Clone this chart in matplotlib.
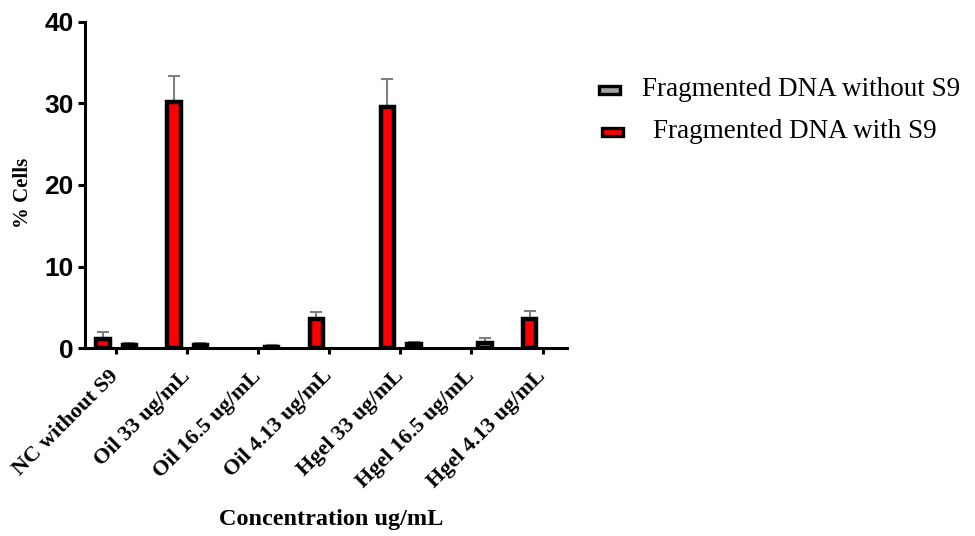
import numpy as np
import matplotlib
matplotlib.use("Agg")
import matplotlib.pyplot as plt
from matplotlib.patches import Rectangle
from matplotlib.transforms import ScaledTranslation

categories = ["NC without S9", "Oil 33 ug/mL", "Oil 16.5 ug/mL", "Oil 4.13 ug/mL",
              "Hgel 33 ug/mL", "Hgel 16.5 ug/mL", "Hgel 4.13 ug/mL"]
with_s9 = [1.2, 30.2, np.nan, 3.6, 29.6, np.nan, 3.6]
with_s9_err = [0.85, 3.1, 0.0, 0.85, 3.4, 0.0, 1.0]
without_s9 = [0.35, 0.46, 0.2, np.nan, 0.54, 0.62, np.nan]
without_s9_err = [0.3, 0.2, 0.15, 0.0, 0.2, 0.6, 0.0]
y_ticks = [0, 10, 20, 30, 40]
label_with = "Fragmented DNA with S9"
label_without = "Fragmented DNA without S9"

RED = "#FF0000"
GREY = "#A0A0A0"
ERRC = "#7F7F7F"

fig = plt.figure(figsize=(9.75, 5.36), dpi=100)
W, H = 975, 536
ax = fig.add_axes([84.5 / W, 1 - 348.3 / H, (566.7 - 84.5) / W, (348.3 - 21.7) / H])

x = np.arange(len(categories))
bw = 0.19
off_red, off_grey = -0.18, 0.19

for xs, vals, errs, col in [(x + off_red, with_s9, with_s9_err, RED),
                            (x + off_grey, without_s9, without_s9_err, GREY)]:
    vals = np.array(vals, dtype=float)
    errs = np.array(errs, dtype=float)
    ax.bar(xs, vals, width=bw, color=col, edgecolor="black", linewidth=3.2, zorder=3)
    m = ~np.isnan(vals)
    ax.errorbar(xs[m], vals[m], yerr=[np.zeros(m.sum()), errs[m]], fmt="none",
                ecolor=ERRC, elinewidth=1.5, capsize=4, capthick=1.5, zorder=2)

ax.set_xlim(-0.44, 6.34)
ax.set_ylim(0, 40)
ax.set_yticks(y_ticks)
ax.set_xticks(x)
ax.set_xticklabels(categories, rotation=45, ha="right", va="center", rotation_mode="anchor",
                   fontfamily="Liberation Serif", fontweight="bold", fontsize=16)
shift = ScaledTranslation(3 / 100, -2 / 100, fig.dpi_scale_trans)
for lab in ax.get_xticklabels():
    lab.set_transform(lab.get_transform() + shift)
for lab in ax.get_yticklabels():
    lab.set_fontfamily("Liberation Sans")
    lab.set_fontweight("bold")
    lab.set_fontsize(19)

for s in ["top", "right"]:
    ax.spines[s].set_visible(False)
for s in ["left", "bottom"]:
    ax.spines[s].set_linewidth(2.2)
ax.tick_params(axis="y", length=5, width=2.2, pad=3)
ax.tick_params(axis="x", length=4, width=2.2, pad=14)

fig.text(23 / W, 1 - 193 / H, "% Cells", ha="center", va="center", rotation=90,
         fontfamily="Liberation Serif", fontweight="bold", fontsize=15)
fig.text(331 / W, 1 - 519 / H, "Concentration ug/mL", ha="center", va="center",
         fontfamily="Liberation Serif", fontweight="bold", fontsize=17.5)

# legend
for (x0, yc, col, txt, tx) in [(597, 90, GREY, label_without, 642),
                               (600, 132, RED, label_with, 653)]:
    fig.patches.append(Rectangle(((x0 + 2) / W, 1 - (yc + 4) / H), 21 / W, 8 / H,
                                 transform=fig.transFigure, facecolor=col,
                                 edgecolor="black", linewidth=2.4))
    fig.text(tx / W, 1 - yc / H, txt, ha="left", va="center",
             fontfamily="Liberation Serif", fontsize=19.5)

fig.savefig("out.png", dpi=100)
